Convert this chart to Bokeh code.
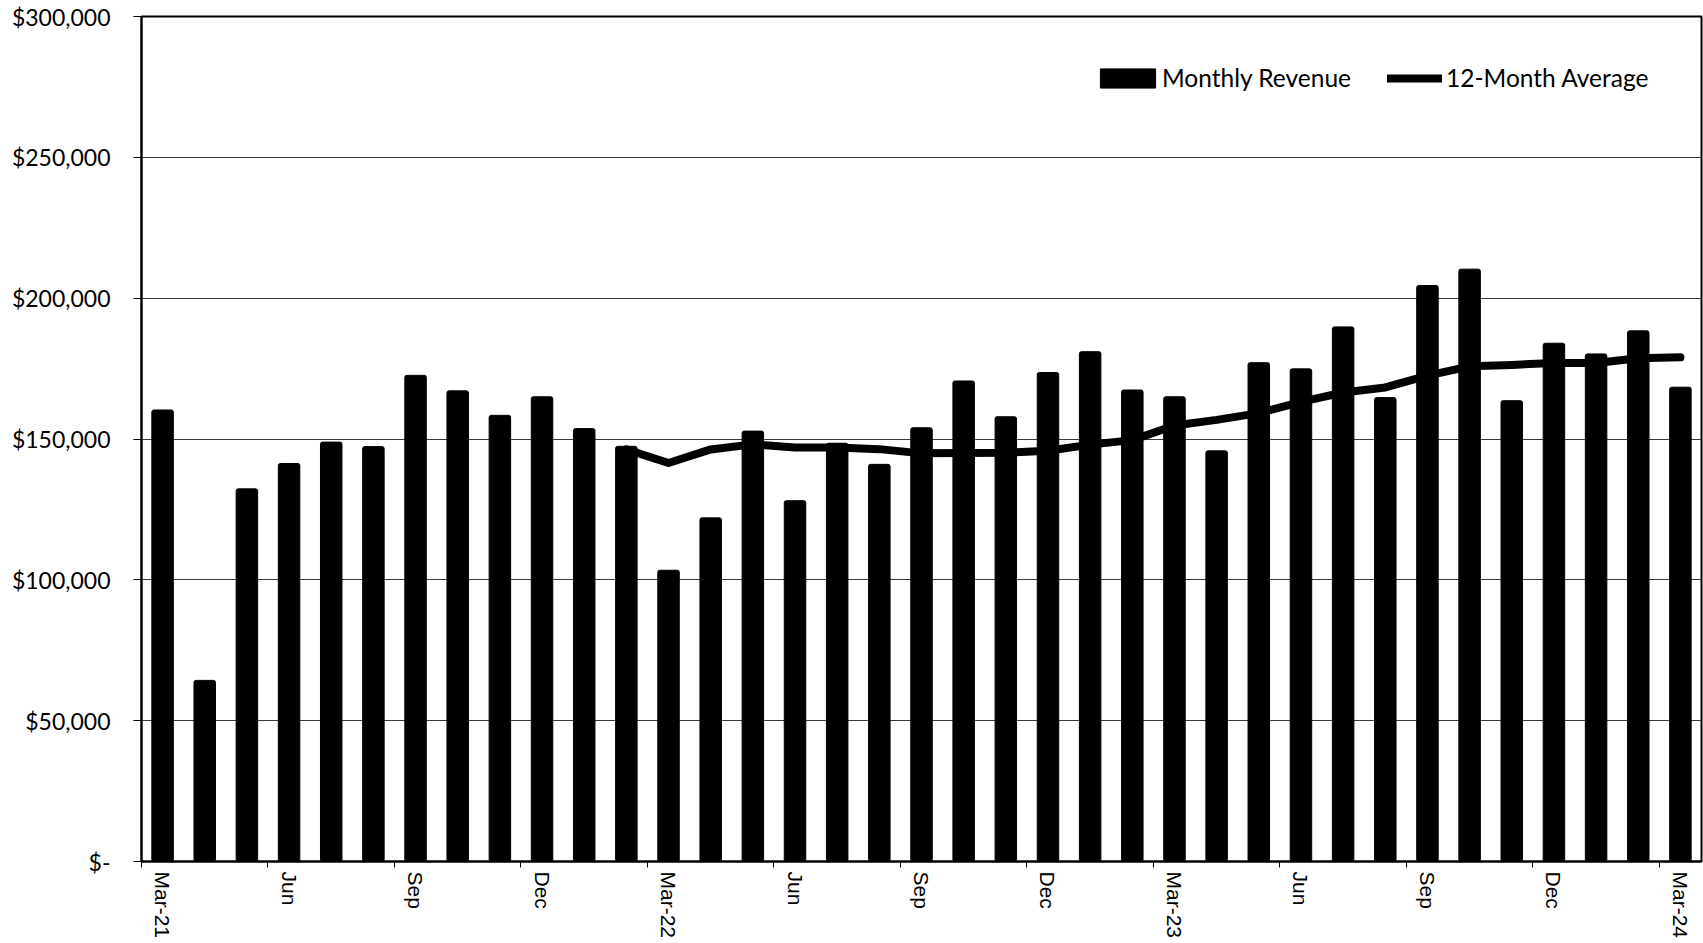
from math import pi

from bokeh.plotting import figure
from bokeh.models import Range1d, FixedTicker, Legend, LegendItem
from bokeh.embed import file_html
from bokeh.resources import INLINE

# Monthly revenue, Mar-21 .. Mar-24
months = [
    "Mar-21", "Apr-21", "May-21", "Jun-21", "Jul-21", "Aug-21", "Sep-21", "Oct-21",
    "Nov-21", "Dec-21", "Jan-22", "Feb-22", "Mar-22", "Apr-22", "May-22", "Jun-22",
    "Jul-22", "Aug-22", "Sep-22", "Oct-22", "Nov-22", "Dec-22", "Jan-23", "Feb-23",
    "Mar-23", "Apr-23", "May-23", "Jun-23", "Jul-23", "Aug-23", "Sep-23", "Oct-23",
    "Nov-23", "Dec-23", "Jan-24", "Feb-24", "Mar-24",
]
revenue = [
    160300, 64300, 132300, 141300, 148900, 147300, 172600, 167100,
    158400, 165000, 153700, 147400, 103400, 122000, 152800, 128100,
    148500, 141000, 154000, 170600, 157900, 173600, 181000, 167400,
    165000, 145800, 177100, 174900, 189800, 164700, 204500, 210300,
    163600, 184000, 180200, 188400, 168400,
]

# 12-month average, available from Feb-22 onward
avg_first_month = "Feb-22"
avg12 = [
    146300, 141500, 146300, 148100, 147000, 147000, 146400, 144900,
    145000, 145100, 145800, 148000, 149600, 154800, 156800, 159200,
    163200, 166500, 168300, 172500, 175800, 176300, 177000, 177000,
    178700, 179000,
]

x_tick_labels = ["Mar-21", "Jun", "Sep", "Dec", "Mar-22", "Jun", "Sep", "Dec",
                 "Mar-23", "Jun", "Sep", "Dec", "Mar-24"]
y_ticks = [0, 50000, 100000, 150000, 200000, 250000, 300000]
y_tick_labels = ["$-", "$50,000", "$100,000", "$150,000", "$200,000", "$250,000", "$300,000"]

# month slots on a numeric axis: slot i spans [i, i+1], bar centred at i + 0.5
n = len(months)
x_centers = [i + 0.5 for i in range(n)]
avg_start = months.index(avg_first_month)
avg_x = x_centers[avg_start:avg_start + len(avg12)]

p = figure(
    width=1703, height=943,
    x_range=Range1d(0, n), y_range=Range1d(0, 300000),
    output_backend="svg", toolbar_location=None,
    min_border_left=141, min_border_right=2, min_border_top=16, min_border_bottom=82,
    background_fill_color="white", border_fill_color="white",
)
p.outline_line_color = "black"
p.outline_line_width = 2

bars = p.vbar(x=x_centers, top=revenue, width=0.51, fill_color="black",
              line_color="black", border_radius=2)
avg_line = p.line(x=avg_x, y=avg12, line_color="black", line_width=8,
                  line_cap="round", line_join="round")

# y axis
p.yaxis.ticker = FixedTicker(ticks=y_ticks)
p.yaxis.major_label_overrides = dict(zip(y_ticks, y_tick_labels))
p.yaxis.major_label_text_font = "Lato"
p.yaxis.major_label_text_font_size = "23px"
p.yaxis.major_label_text_color = "black"
p.yaxis.major_label_standoff = 23
p.yaxis.major_tick_out = 8
p.yaxis.major_tick_in = 0
p.yaxis.major_tick_line_color = "black"
p.yaxis.minor_tick_line_color = None
p.yaxis.axis_line_color = "black"
p.yaxis.axis_line_width = 2

# x axis: labels centred on every third month, ticks on the slot boundaries
labelled = list(range(0, n, 3))
p.xaxis.ticker = FixedTicker(ticks=[x_centers[i] for i in labelled],
                             minor_ticks=[float(i) for i in labelled])
p.xaxis.major_label_overrides = {x_centers[i]: lab for i, lab in zip(labelled, x_tick_labels)}
p.xaxis.major_label_orientation = -pi / 2
p.xaxis.major_label_text_font = "Liberation Sans"
p.xaxis.major_label_text_font_size = "21px"
p.xaxis.major_label_text_color = "black"
p.xaxis.major_label_standoff = 4
p.xaxis.major_tick_out = 0
p.xaxis.major_tick_in = 0
p.xaxis.minor_tick_out = 6
p.xaxis.minor_tick_in = 0
p.xaxis.minor_tick_line_color = "black"
p.xaxis.axis_line_color = "black"
p.xaxis.axis_line_width = 2

p.xgrid.visible = False
p.ygrid.ticker = FixedTicker(ticks=y_ticks)
p.ygrid.grid_line_color = "#3a3a3a"
p.ygrid.grid_line_width = 1

legend_style = dict(
    orientation="horizontal", padding=0, margin=0, border_line_color=None,
    background_fill_alpha=0, label_text_font="Lato", label_text_font_size="24.5px",
    label_text_color="black",
)
# box swatch is drawn at 80% of the glyph area, so the area is enlarged
bar_legend = Legend(
    items=[LegendItem(label="Monthly Revenue", renderers=[bars])],
    location=(952, 769), glyph_width=69, glyph_height=24, label_standoff=0,
    **legend_style,
)
line_legend = Legend(
    items=[LegendItem(label="12-Month Average", renderers=[avg_line])],
    location=(1246, 769), glyph_width=55, glyph_height=24, label_standoff=4,
    **legend_style,
)
p.add_layout(bar_legend)
p.add_layout(line_legend)

open("out.html", "w").write(file_html(p, INLINE))
